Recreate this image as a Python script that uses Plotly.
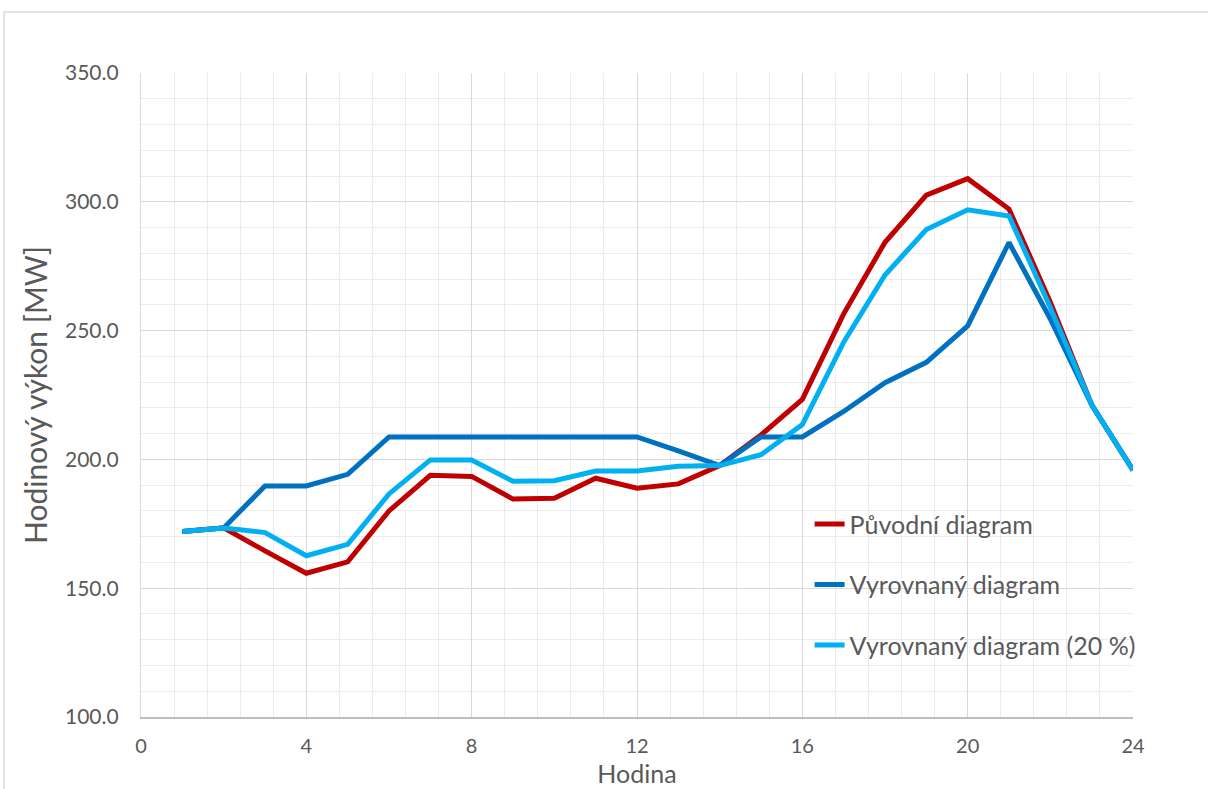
import plotly.graph_objects as go

# Hodinové hodnoty výkonu [MW] pro hodiny 1–24
hodiny = list(range(1, 25))
puvodni = [172.0, 173.4, 164.5, 155.8, 160.2, 180.0, 193.8, 193.4, 184.6, 184.9, 192.7, 188.8,
           190.5, 197.6, 209.5, 223.3, 256.5, 284.3, 302.6, 309.0, 297.2, 261.0, 221.2, 195.8]
vyrovnany = [172.0, 173.4, 189.7, 189.7, 194.2, 208.7, 208.7, 208.7, 208.7, 208.7, 208.7, 208.7,
             203.3, 197.6, 208.7, 208.7, 218.6, 229.8, 237.7, 251.8, 284.2, 254.5, 221.2, 195.8]
vyrovnany20 = [172.0, 173.4, 171.6, 162.6, 167.0, 186.6, 199.8, 199.8, 191.5, 191.7, 195.5, 195.5,
               197.3, 197.6, 201.8, 213.5, 245.5, 271.6, 289.2, 296.9, 294.5, 259.0, 221.2, 195.8]

nazvy = ["Původní diagram", "Vyrovnaný diagram", "Vyrovnaný diagram (20 %)"]
barvy = ["#C00000", "#0070C0", "#00B0F0"]
x_ticks = [0, 4, 8, 12, 16, 20, 24]
y_ticks = [100, 150, 200, 250, 300, 350]

FONT = "Lato, Liberation Sans, sans-serif"
TEXT = "#595959"

fig = go.Figure()
for i, (nazev, data, barva) in enumerate(zip(nazvy, [puvodni, vyrovnany, vyrovnany20], barvy)):
    fig.add_trace(go.Scatter(
        x=hodiny, y=data, mode="lines", name=nazev,
        legendgroup=f"g{i}",
        line=dict(color=barva, width=5, shape="linear"),
    ))

fig.update_layout(
    width=1208, height=789,
    margin=dict(l=141, r=75, t=73, b=72),
    paper_bgcolor="white", plot_bgcolor="white",
    font=dict(family=FONT, color=TEXT),
    showlegend=True,
    legend=dict(
        x=0.674, y=0.335, xanchor="left", yanchor="top",
        font=dict(size=25, color=TEXT, family=FONT),
        bgcolor="rgba(0,0,0,0)",
        tracegroupgap=25,
    ),
    shapes=[
        # rámeček oblasti grafu
        dict(type="rect", xref="paper", yref="paper",
             x0=-0.138, x1=1.2, y0=-0.3, y1=1.0947,
             line=dict(color="#d9d9d9", width=1.5), fillcolor="rgba(0,0,0,0)",
             layer="below"),
    ],
)

fig.update_xaxes(
    range=[0, 24], tickvals=x_ticks, ticktext=[str(v) for v in x_ticks],
    showgrid=True, gridcolor="#d9d9d9", gridwidth=1.3,
    minor=dict(dtick=0.8, showgrid=True, gridcolor="#ececec", gridwidth=1.3),
    showline=True, linecolor="#bfbfbf", linewidth=1.5,
    zeroline=False, ticks="", ticklabelstandoff=10, automargin=False,
    tickfont=dict(size=20, color=TEXT, family=FONT),
    title=dict(text="Hodina", font=dict(size=25, color=TEXT, family=FONT), standoff=10),
)
fig.update_yaxes(
    range=[100, 350], tickvals=y_ticks, tickformat=".1f",
    showgrid=True, gridcolor="#d9d9d9", gridwidth=1.3,
    minor=dict(dtick=10, showgrid=True, gridcolor="#ececec", gridwidth=1.3),
    showline=True, linecolor="#d9d9d9", linewidth=1.3,
    zeroline=False, ticks="", ticklabelstandoff=17, automargin=False,
    tickfont=dict(size=21, color=TEXT, family=FONT),
    title=dict(text="Hodinový výkon [MW]", font=dict(size=30, color=TEXT, family=FONT), standoff=8),
)

fig.write_html("out.html")
